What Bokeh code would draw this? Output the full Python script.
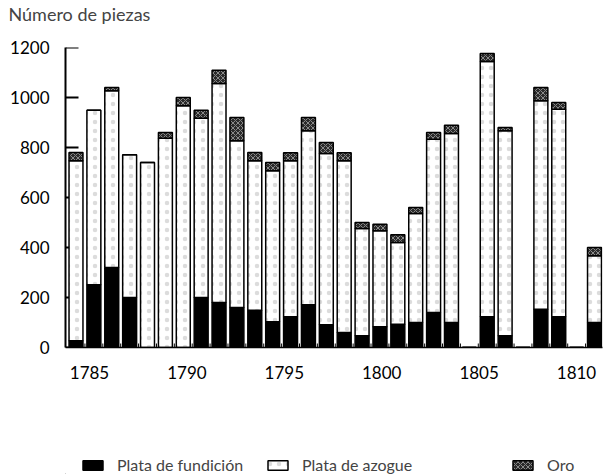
from bokeh.plotting import figure
from bokeh.layouts import column
from bokeh.models import Range1d, LinearAxis, FixedTicker, Legend, LegendItem, Title
from bokeh.embed import file_html
from bokeh.resources import INLINE

# ---- data ----
bar_index = list(range(1, 31))
fundicion = [27, 251, 320, 200, 0, 0, 0, 200, 180, 160, 149, 103, 123, 171, 91,
             60, 47, 83, 93, 100, 140, 100, 0, 123, 47, 0, 153, 123, 0, 100]
azogue = [720, 698, 707, 571, 740, 837, 967, 717, 876, 667, 598, 604, 624, 696, 685,
          687, 429, 384, 327, 436, 693, 756, 0, 1021, 820, 0, 834, 830, 0, 267]
oro = [33, 0, 13, 0, 0, 23, 33, 32, 53, 93, 33, 33, 32, 53, 44,
       32, 24, 26, 31, 24, 27, 33, 0, 32, 13, 0, 53, 27, 0, 33]
year_ticks = [1785, 1790, 1795, 1800, 1805, 1810]
y_ticks = [0, 200, 400, 600, 800, 1000, 1200]
series = ["fundicion", "azogue", "oro"]
labels = ["Plata de fundición", "Plata de azogue", "Oro"]

FONT = "Lato"
fills = ["black", "white", "#2a2a2a"]
hatches = [" ", "dot", "x"]
hatch_colors = ["black", "#dcdcdc", "#8a8a8a"]
hatch_scales = [6, 9, 5]

data = dict(x=bar_index, fundicion=fundicion, azogue=azogue, oro=oro)

x_range = Range1d(0.413, 30.447)
p = figure(width=604, height=444,
           x_range=x_range, y_range=Range1d(0, 1200),
           output_backend="svg", toolbar_location=None,
           x_axis_location=None, y_axis_location=None,
           min_border_left=65, min_border_right=2,
           min_border_top=47, min_border_bottom=97)
p.xgrid.visible = False
p.ygrid.visible = False
p.outline_line_color = None
p.extra_x_ranges = {"year": Range1d(1783.768, 1811.335)}

# inward y ticks, drawn first so the bars cover them
p.ray(x=[x_range.start] * len(y_ticks), y=y_ticks, length=13, length_units="screen",
      angle=0, line_color="black", line_width=2)

# small upward ticks between the bar slots
gap_x = [i + 0.5 for i in bar_index[:-1]]
p.segment(x0=gap_x, x1=gap_x, y0=[0] * len(gap_x), y1=[16] * len(gap_x),
          line_color="black", line_width=1)

renderers = p.vbar_stack(series, x="x", width=0.78, source=data,
                         fill_color=fills, line_color="black", line_width=1.5,
                         hatch_pattern=hatches, hatch_color=hatch_colors,
                         hatch_scale=hatch_scales, hatch_weight=1)

# y axis with labels
yaxis = LinearAxis(ticker=FixedTicker(ticks=y_ticks), major_tick_line_color=None,
                   minor_tick_line_color=None, axis_line_width=2,
                   major_label_text_font=FONT, major_label_text_font_size="17px",
                   major_label_text_color="black", major_label_standoff=10)
p.add_layout(yaxis, "left")

# year axis with labels
yearaxis = LinearAxis(x_range_name="year", ticker=FixedTicker(ticks=year_ticks),
                      axis_line_color="black", axis_line_width=1.5,
                      major_tick_line_color=None, minor_tick_line_color=None,
                      major_label_text_font=FONT, major_label_text_font_size="17px",
                      major_label_text_color="black", major_label_standoff=12)
p.add_layout(yearaxis, "below")

# spacer between the frame and the title
p.add_layout(Title(text=" ", text_font_size="16px", standoff=4), "above")

# title
p.title.text = "Número de piezas"
p.title.text_font = FONT
p.title.text_font_size = "18px"
p.title.text_font_style = "normal"
p.title.align = "left"
p.title.offset = -57
p.title.standoff = 0

# legend strip
q = figure(width=604, height=30, x_range=Range1d(0, 1), y_range=Range1d(0, 1),
           output_backend="svg", toolbar_location=None,
           x_axis_location=None, y_axis_location=None,
           min_border_left=65, min_border_right=2, min_border_top=0, min_border_bottom=0)
q.xgrid.visible = False
q.ygrid.visible = False
q.outline_line_color = None
legend_x = [15, 200, 445]
for lab, fc, hp, hc, hs, lx in zip(labels, fills, hatches, hatch_colors, hatch_scales, legend_x):
    # swatch-only renderer, its single point lies outside the visible range
    r = q.vbar(x=[-1], top=[0], width=0.1,
               fill_color=fc, line_color="black", line_width=1.5,
               hatch_pattern=hp, hatch_color=hc, hatch_scale=hs, hatch_weight=1)
    lg = Legend(items=[LegendItem(label=lab, renderers=[r])], location=(lx, 0),
                border_line_color=None, background_fill_alpha=0,
                glyph_width=25, glyph_height=12, label_standoff=12,
                label_text_font=FONT, label_text_font_size="16px",
                padding=0, margin=0)
    q.add_layout(lg, "center")

open("out.html", "w").write(file_html(column(p, q, spacing=0), INLINE))
